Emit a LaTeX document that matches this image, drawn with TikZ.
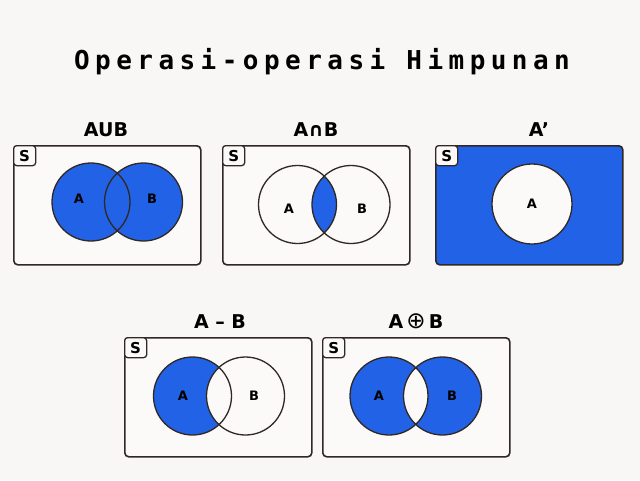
\documentclass[tikz,border=0pt]{standalone}
\usepackage{fontspec}
\setmainfont{DejaVu Sans}
\newfontfamily\titlefont[LetterSpace=21]{DejaVu Sans Mono}
\usepackage{xcolor}
\usetikzlibrary{positioning}

\definecolor{setblue}{RGB}{34,98,230}
\definecolor{paper}{RGB}{248,247,245}
\definecolor{boxfill}{RGB}{251,250,249}
\definecolor{edge}{RGB}{48,40,36}

\tikzset{
    univ/.style = {draw=edge, line width=1.6pt, rounded corners=4pt, fill=boxfill,
                   minimum width=187pt, minimum height=119pt, anchor=north west, inner sep=0pt},
    sbox/.style = {draw=edge, line width=1.3pt, rounded corners=3pt, fill=boxfill,
                   minimum width=22pt, minimum height=20pt, anchor=north west, inner sep=0pt,
                   font=\fontsize{15}{15}\selectfont\bfseries},
    ring/.style = {draw=edge, line width=1.3pt},
    oplabel/.style = {anchor=base, font=\fontsize{19}{19}\selectfont\bfseries},
    setlabel/.style = {font=\fontsize{13}{13}\selectfont\bfseries}
}

\begin{document}
\begin{tikzpicture}[x=1pt, y=-1pt]
        \useasboundingbox[fill=paper] (0,0) rectangle (640,480);

        \node[anchor=base, font=\titlefont\fontsize{26}{26}\selectfont\bfseries] (title) at (322,69) {Operasi-operasi Himpunan};

        % union
        \begin{scope}
            \node[univ] (u1) at (13,145) {};
            \node[sbox] (s1) at (u1.north west) {S};
            \coordinate (a1) at (91,202);
            \coordinate (b1) at (143.5,202);
            \fill[setblue] (a1) circle[radius=39pt] (b1) circle[radius=39pt];
            \draw[ring] (a1) circle[radius=39pt] (b1) circle[radius=39pt];
            \node[setlabel] (la1) at (79,199) {A};
            \node[setlabel] (lb1) at (152,199) {B};
            \node[oplabel] (t1) at (106,136) {AUB};
        \end{scope}

        % intersection
        \begin{scope}
            \node[univ] (u2) at (222,145) {};
            \node[sbox] (s2) at (u2.north west) {S};
            \coordinate (a2) at (297.5,204.5);
            \coordinate (b2) at (351,204.5);
            \begin{scope}
                \clip (a2) circle[radius=39pt];
                \fill[setblue] (b2) circle[radius=39pt];
            \end{scope}
            \draw[ring] (a2) circle[radius=39pt] (b2) circle[radius=39pt];
            \node[setlabel] (la2) at (289,209) {A};
            \node[setlabel] (lb2) at (362,209) {B};
            \node[oplabel] (t2) at (316,136) {A∩B};
        \end{scope}

        % complement
        \begin{scope}
            \node[univ, fill=setblue] (u3) at (435,145) {};
            \node[sbox] (s3) at (u3.north west) {S};
            \coordinate (a3) at (532,204);
            \draw[ring, fill=boxfill] (a3) circle[radius=40pt];
            \node[setlabel] (la3) at (532,204) {A};
            \node[oplabel] (t3) at (539,136) {A’};
        \end{scope}

        % difference
        \begin{scope}
            \node[univ] (u4) at (124,337) {};
            \node[sbox] (s4) at (u4.north west) {S};
            \coordinate (a4) at (192.5,396);
            \coordinate (b4) at (245.5,396);
            \fill[setblue] (a4) circle[radius=39pt];
            \draw[ring, fill=boxfill] (b4) circle[radius=39pt];
            \draw[ring] (a4) circle[radius=39pt];
            \node[setlabel] (la4) at (183,396) {A};
            \node[setlabel] (lb4) at (254,396) {B};
            \node[oplabel] (t4) at (220,328) {A – B};
        \end{scope}

        % symmetric difference
        \begin{scope}
            \node[univ] (u5) at (322,337) {};
            \node[sbox] (s5) at (u5.north west) {S};
            \coordinate (a5) at (389,396);
            \coordinate (b5) at (442.5,396);
            \fill[setblue, even odd rule] (a5) circle[radius=39pt] (b5) circle[radius=39pt];
            \draw[ring] (a5) circle[radius=39pt] (b5) circle[radius=39pt];
            \node[setlabel] (la5) at (379,396) {A};
            \node[setlabel] (lb5) at (452,396) {B};
            \node[oplabel] (t5) at (416,328) {A\,{\fontsize{23}{19}\selectfont\mdseries ⊕}\,B};
        \end{scope}
    \end{tikzpicture}
\end{document}
